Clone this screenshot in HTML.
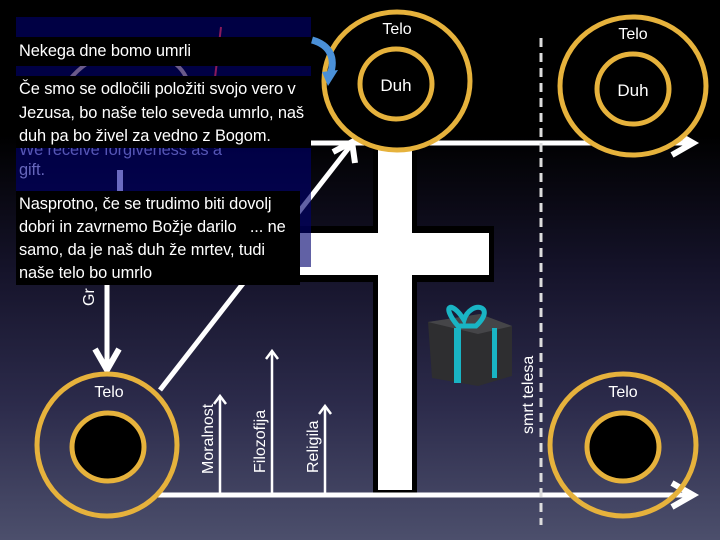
<!DOCTYPE html>
<html><head><meta charset="utf-8"><style>
html,body{margin:0;padding:0}
body{width:720px;height:540px;overflow:hidden;position:relative;background:linear-gradient(to bottom,#000 0%,#000 25%,#15132a 50%,#2c2b4b 75%,#4c4f6c 100%);font-family:"Liberation Sans",sans-serif;color:#fff}
.t{position:absolute;font-size:16.4px;line-height:23.5px;white-space:nowrap;letter-spacing:-0.1px}
.bx{position:absolute;background:#000}
</style></head><body>
<svg width="720" height="540" style="position:absolute;left:0;top:0">
<rect x="373" y="145" width="44" height="350" fill="#000"/>
<rect x="255" y="226" width="239" height="56" fill="#000"/>
<rect x="378" y="145" width="34" height="345" fill="#fff"/>
<rect x="255" y="233" width="234" height="42" fill="#fff"/>
<line x1="300" y1="143" x2="693" y2="143" stroke="#fff" stroke-width="5"/>
<polyline points="672,131 693,143 672,155" fill="none" stroke="#fff" stroke-width="6"/>
<line x1="158" y1="495" x2="693" y2="495" stroke="#fff" stroke-width="5"/>
<polyline points="672,483 693,495 672,507" fill="none" stroke="#fff" stroke-width="6"/>
<line x1="541" y1="38" x2="541" y2="525" stroke="#ddd" stroke-width="3" stroke-dasharray="9,6"/>
<line x1="160" y1="390" x2="351" y2="145" stroke="#fff" stroke-width="5"/>
<polyline points="333,152 352,142 355,163" fill="none" stroke="#fff" stroke-width="6"/>
<line x1="107" y1="285" x2="107" y2="368" stroke="#fff" stroke-width="5"/>
<polyline points="95,349 107,370 119,349" fill="none" stroke="#fff" stroke-width="6"/>
<g stroke="#fff" stroke-width="2.5" fill="none">
<line x1="220" y1="495" x2="220" y2="397"/><polyline points="214,404 220,396 226,404"/>
<line x1="272" y1="495" x2="272" y2="352"/><polyline points="266,359 272,351 278,359"/>
<line x1="325" y1="495" x2="325" y2="407"/><polyline points="319,414 325,406 331,414"/>
</g>
<g fill="none" stroke="#e6b23c" stroke-width="5">
<ellipse cx="397" cy="81" rx="73" ry="69" fill="#000"/>
<ellipse cx="396" cy="84" rx="36" ry="35"/>
<ellipse cx="633" cy="86" rx="73" ry="69" fill="#000"/>
<ellipse cx="633" cy="89" rx="36" ry="35"/>
<ellipse cx="107" cy="445" rx="70" ry="71"/>
<ellipse cx="108" cy="447" rx="36" ry="34" fill="#000"/>
<ellipse cx="623" cy="445" rx="73" ry="71"/>
<ellipse cx="623" cy="447" rx="36" ry="34" fill="#000"/>
</g>
<polygon points="428,322 480,314 512,326 512,376 478,386 432,378" fill="#2e2e30"/>
<polygon points="428,322 480,314 512,326 478,334" fill="#454548"/>
<rect x="454" y="328" width="7" height="55" fill="#19b4c4"/>
<rect x="492" y="328" width="5" height="50" fill="#19b4c4"/>
<path d="M458 326 C440 305,452 300,464 320 C470 300,498 305,476 326 Z" fill="none" stroke="#19b4c4" stroke-width="5"/>
<path d="M312 40 C330 45,336 58,330 75" fill="none" stroke="#4a90d8" stroke-width="7"/>
<polygon points="322,72 338,70 328,86" fill="#4a90d8"/>
<g fill="#fff" font-family="Liberation Sans, sans-serif" font-size="16">
<text x="397" y="34" text-anchor="middle">Telo</text>
<text x="396" y="91" text-anchor="middle" font-size="17">Duh</text>
<text x="633" y="39" text-anchor="middle">Telo</text>
<text x="633" y="96" text-anchor="middle" font-size="17">Duh</text>
<text x="109" y="397" text-anchor="middle">Telo</text>
<text x="623" y="397" text-anchor="middle">Telo</text>
<text transform="translate(213,474) rotate(-90)">Moralnost</text>
<text transform="translate(265,473) rotate(-90)">Filozofija</text>
<text transform="translate(318,473) rotate(-90)">Religila</text>
<text transform="translate(533,434) rotate(-90)">smrt telesa</text>
<text transform="translate(94,306) rotate(-90)">Gr</text>
</g>
</svg>
<div style="position:absolute;left:16px;top:17px;width:295px;height:250px;background:rgba(0,0,110,0.62)">
<svg width="295" height="250" style="position:absolute;left:0;top:0">
<path d="M40 90 C60 20,150 20,170 60" fill="none" stroke="#6a5a8a" stroke-width="4"/>
<line x1="205" y1="10" x2="192" y2="120" stroke="#8a1a5a" stroke-width="2"/>
<rect x="101" y="153" width="6" height="90" fill="#6a6ac0"/>
</svg>
</div>
<div class="t" style="left:19px;top:139px;color:#5555b5">We receive forgiveness as a</div>
<div class="t" style="left:19px;top:159px;color:#6666bb">gift.</div>
<div class="bx" style="left:16px;top:37px;width:295px;height:29px"></div>
<div class="t" style="left:19px;top:40px">Nekega dne bomo umrli</div>
<div class="bx" style="left:16px;top:76px;width:295px;height:72px"></div>
<div class="t" style="left:19px;top:78px">Če smo se odločili položiti svojo vero v<br>Jezusa, bo naše telo seveda umrlo, naš<br>duh pa bo živel za vedno z Bogom.</div>
<div class="bx" style="left:16px;top:191px;width:284px;height:94px"></div>
<div class="t" style="left:19px;top:193px;line-height:23px">Nasprotno, če se trudimo biti dovolj<br>dobri in zavrnemo Božje darilo &nbsp; ... ne<br>samo, da je naš duh že mrtev, tudi<br>naše telo bo umrlo</div>
</body></html>
